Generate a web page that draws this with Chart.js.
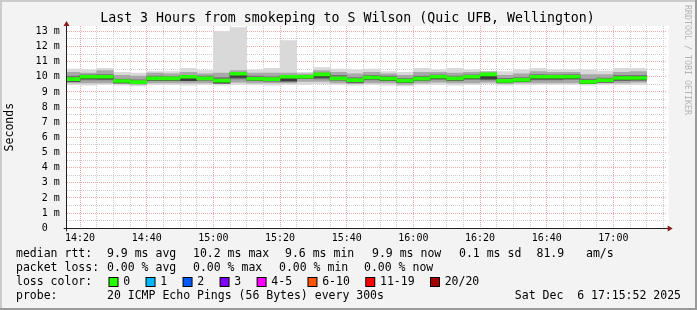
<!DOCTYPE html>
<html>
<head>
<meta charset="utf-8">
<script src="https://cdn.jsdelivr.net/npm/chart.js@4.4.1/dist/chart.umd.min.js"></script>
<style>
  html, body { margin: 0; padding: 0; background: #f3f3f3; }
  canvas { display: block; }
</style>
</head>
<body>
<canvas id="smokeGraph" width="697" height="310"></canvas>
<script>
// 5 minute bins (start time of each bin)
const bin_start = ['14:15','14:20','14:25','14:30','14:35','14:40','14:45','14:50','14:55',
  '15:00','15:05','15:10','15:15','15:20','15:25','15:30','15:35','15:40','15:45','15:50','15:55',
  '16:00','16:05','16:10','16:15','16:20','16:25','16:30','16:35','16:40','16:45','16:50','16:55',
  '17:00','17:05']
const tick_labels = ['14:20','14:40','15:00','15:20','15:40','16:00','16:20','16:40','17:00']

// rtt in ms
const rtt_median = [9.85, 10.0, 10.0, 9.72, 9.65, 9.9, 9.9, 10.0, 9.9, 9.74, 10.2, 9.87, 9.85, 10.0,
  10.0, 10.16, 9.9, 9.78, 9.95, 9.88, 9.75, 9.88, 10.0, 9.9, 10.0, 10.16, 9.73, 9.8, 10.0, 10.0,
  10.0, 9.66, 9.77, 9.92, 9.92]
const rtt_min = [9.5, 9.45, 9.5, 9.45, 9.4, 9.5, 9.5, 9.45, 9.5, 9.45, 9.5, 9.5, 9.45, 9.5, 9.5,
  9.55, 9.5, 9.45, 9.5, 9.45, 9.4, 9.5, 9.5, 9.45, 9.5, 9.55, 9.45, 9.5, 9.5, 9.5, 9.5, 9.45, 9.5,
  9.5, 9.5]
const rtt_max = [10.5, 10.45, 10.55, 10.3, 10.25, 10.35, 10.35, 10.55, 10.4, 12.98, 13.24, 10.45,
  10.55, 12.38, 10.3, 10.6, 10.5, 10.45, 10.5, 10.35, 10.3, 10.55, 10.45, 10.55, 10.45, 10.3, 10.35,
  10.45, 10.55, 10.45, 10.45, 10.45, 10.38, 10.55, 10.55]
const rtt_p10 = [9.6, 9.6, 9.6, 9.55, 9.5, 9.6, 9.6, 9.6, 9.6, 9.55, 9.65, 9.6, 9.6, 9.6, 9.7, 9.7,
  9.6, 9.55, 9.6, 9.6, 9.5, 9.6, 9.65, 9.6, 9.6, 9.65, 9.55, 9.6, 9.6, 9.6, 9.6, 9.55, 9.6, 9.6, 9.65]
const rtt_p90 = [10.3, 10.25, 10.4, 10.1, 10.05, 10.25, 10.2, 10.3, 10.2, 10.25, 10.4, 10.25, 10.25,
  10.25, 10.2, 10.4, 10.3, 10.2, 10.3, 10.2, 10.1, 10.3, 10.3, 10.25, 10.3, 10.35, 10.1, 10.2, 10.35,
  10.3, 10.3, 10.15, 10.15, 10.3, 10.35]
const rtt_p25 = [9.72, 9.8, 9.8, 9.62, 9.58, 9.75, 9.75, 9.75, 9.78, 9.62, 9.85, 9.75, 9.72, 9.7,
  9.88, 9.85, 9.78, 9.65, 9.8, 9.78, 9.62, 9.75, 9.82, 9.75, 9.82, 9.8, 9.65, 9.7, 9.8, 9.8, 9.82,
  9.6, 9.68, 9.75, 9.78]
const rtt_p75 = [10.05, 10.12, 10.15, 9.85, 9.8, 10.05, 10.02, 10.1, 10.05, 9.95, 10.3, 10.05, 10.0,
  10.1, 10.08, 10.25, 10.1, 9.95, 10.1, 10.05, 9.9, 10.05, 10.12, 10.05, 10.12, 10.2, 9.9, 9.95,
  10.15, 10.12, 10.15, 9.85, 9.92, 10.1, 10.1]
const rtt_core_lo = [9.7, 9.88, 9.85, 9.6, 9.55, 9.78, 9.78, 9.75, 9.8, 9.58, 9.95, 9.78, 9.72, 9.72,
  9.9, 9.95, 9.8, 9.65, 9.85, 9.75, 9.62, 9.78, 9.88, 9.78, 9.88, 9.85, 9.62, 9.68, 9.85, 9.85, 9.88,
  9.55, 9.65, 9.8, 9.8]
const rtt_core_hi = [9.9, 10.08, 10.05, 9.78, 9.7, 9.95, 9.95, 10.0, 9.95, 9.8, 10.25, 9.92, 9.9,
  10.0, 10.05, 10.2, 9.95, 9.82, 10.0, 9.92, 9.8, 9.92, 10.05, 9.95, 10.05, 10.1, 9.8, 9.85, 10.05,
  10.05, 10.05, 9.72, 9.82, 9.98, 9.98]

const loss_labels = ['0', '1', '2', '3', '4-5', '6-10', '11-19', '20/20']
const loss_colors = ['#26ff00', '#00b8ff', '#0059ff', '#7e00ff', '#ff00ff', '#ff5500', '#ff0000', '#a10000']

const rtt_stats = ['9.9 ms avg', '10.2 ms max', '9.6 ms min', '9.9 ms now', '0.1 ms sd', '81.9', 'am/s']
const loss_stats = ['0.00 % avg', '0.00 % max', '0.00 % min', '0.00 % now']

const MONO = '"DejaVu Sans Mono", monospace'
const TITLE = 'Last 3 Hours from smokeping to S Wilson (Quic UFB, Wellington)'
const x_start = '14:16'
const x_end = '17:16'

function toMin(s) {
  const p = s.split(':')
  return (+p[0]) * 60 + (+p[1])
}
function fmtMin(v) {
  const h = Math.floor(v / 60)
  const m = Math.round(v - h * 60)
  return h + ':' + String(m).padStart(2, '0')
}
function band(lo, hi) {
  return bin_start.map((t, i) => ({x: toMin(t) + 2.5, y: [lo[i], hi[i]]}))
}

const smokeFrame = {
  id: 'smokeFrame',
  beforeDraw(chart) {
    const ctx = chart.ctx
    const a = chart.chartArea
    ctx.save()
    ctx.fillStyle = '#f3f3f3'
    ctx.fillRect(0, 0, 697, 310)
    ctx.fillStyle = '#ffffff'
    ctx.fillRect(a.left, a.top, a.right - a.left + 2, a.bottom - a.top)
    ctx.fillStyle = '#cbcbcb'
    ctx.fillRect(0, 0, 697, 2)
    ctx.fillRect(0, 0, 2, 310)
    ctx.fillStyle = '#9a9a9a'
    ctx.fillRect(0, 308, 697, 2)
    ctx.fillRect(695, 0, 2, 310)
    ctx.fillStyle = '#000'
    ctx.font = '13.25px ' + MONO
    ctx.textAlign = 'center'
    ctx.textBaseline = 'middle'
    ctx.fillText(TITLE, 347.5, 19)
    ctx.restore()
  },
  afterDatasetsDraw(chart) {
    const ctx = chart.ctx
    const a = chart.chartArea
    const yb = Math.round(a.bottom) + 0.5
    const xl = Math.round(a.left) - 0.5
    ctx.save()
    ctx.strokeStyle = '#202020'
    ctx.lineWidth = 1
    ctx.beginPath()
    ctx.moveTo(xl, a.bottom + 3)
    ctx.lineTo(xl, a.top - 1)
    ctx.moveTo(a.left - 3, yb)
    ctx.lineTo(a.right + 2, yb)
    ctx.stroke()
    ctx.fillStyle = '#8b1c1c'
    ctx.beginPath()
    ctx.moveTo(xl - 3, a.top)
    ctx.lineTo(xl + 3, a.top)
    ctx.lineTo(xl, a.top - 5)
    ctx.closePath()
    ctx.fill()
    ctx.beginPath()
    ctx.moveTo(a.right + 1, yb - 3)
    ctx.lineTo(a.right + 1, yb + 3)
    ctx.lineTo(a.right + 6, yb)
    ctx.closePath()
    ctx.fill()
    ctx.restore()
  },
  afterDraw(chart) {
    const ctx = chart.ctx
    ctx.save()
    ctx.fillStyle = '#000'
    ctx.font = '11.5px ' + MONO
    ctx.textBaseline = 'middle'
    ctx.textAlign = 'left'

    ctx.fillText('median rtt:', 16, 254)
    const rtt_x = [107, 193, 285, 372, 459, 536.5, 586]
    rtt_stats.forEach(function(s, i) { ctx.fillText(s, rtt_x[i], 254) })

    ctx.fillText('packet loss:', 16, 268)
    const loss_x = [107, 193, 279, 364]
    loss_stats.forEach(function(s, i) { ctx.fillText(s, loss_x[i], 268) })

    ctx.fillText('loss color:', 16, 282)
    let x = 108.5
    loss_labels.forEach(function(lbl, i) {
      ctx.fillStyle = '#000'
      ctx.fillRect(x, 277, 10, 10)
      ctx.fillStyle = loss_colors[i]
      ctx.fillRect(x + 1, 278, 8, 8)
      ctx.fillStyle = '#000'
      ctx.fillText(lbl, x + 14.7, 282)
      x += 14.7 + ctx.measureText(lbl).width + 15.4
    })

    ctx.fillText('probe:', 16, 296)
    ctx.fillText('20 ICMP Echo Pings (56 Bytes) every 300s', 107, 296)
    ctx.textAlign = 'right'
    ctx.fillText('Sat Dec  6 17:15:52 2025', 681, 296)

    ctx.translate(687, 5)
    ctx.rotate(Math.PI / 2)
    ctx.textAlign = 'left'
    ctx.fillStyle = '#b4b4b4'
    ctx.font = '8.3px ' + MONO
    ctx.fillText('RRDTOOL / TOBI OETIKER', 0, 0)
    ctx.restore()
  }
}

const smokeCanvas = document.getElementById('smokeGraph')
new Chart(
  smokeCanvas,
  {
    type: 'bar',
    data: {
      datasets: [
        {
          label: 'median',
          data: bin_start.map((t, i) => ({x: toMin(t) + 2.5, y: [rtt_median[i] - 0.1, rtt_median[i] + 0.1]})),
          backgroundColor: loss_colors[0],
        },
        {
          label: 'core',
          data: band(rtt_core_lo, rtt_core_hi),
          backgroundColor: '#3c3c3c',
        },
        {
          label: 'p25-p75',
          data: band(rtt_p25, rtt_p75),
          backgroundColor: '#737373',
        },
        {
          label: 'p10-p90',
          data: band(rtt_p10, rtt_p90),
          backgroundColor: '#a8a8a8',
        },
        {
          label: 'min-max',
          data: band(rtt_min, rtt_max),
          backgroundColor: '#d9d9d9',
        },
      ]
    },
    options: {
      responsive: false,
      animation: false,
      devicePixelRatio: 1,
      datasets: {
        bar: {
          grouped: false,
          barPercentage: 1,
          categoryPercentage: 1,
          borderWidth: 0,
          clip: 0,
        }
      },
      layout: {
        padding: {left: 0, right: 30.3, top: 26, bottom: 63.7}
      },
      plugins: {
        legend: false,
        tooltip: {enabled: false},
        title: false,
      },
      scales: {
        x: {
          type: 'linear',
          offset: false,
          min: toMin(x_start),
          max: toMin(x_end),
          afterBuildTicks: function(scale) {
            // a grid line every 5 minutes, labelled ones from tick_labels
            const ticks = []
            for (let v = toMin(tick_labels[0]); v <= scale.max; v += 5) {
              ticks.push({value: v})
            }
            scale.ticks = ticks
          },
          afterFit: function(scale) { scale.height = 18 },
          border: {display: false, dash: [1, 1]},
          grid: {
            offset: false,
            drawTicks: false,
            color: function(c) {
              if (!c.tick) return '#cccccc'
              return tick_labels.includes(fmtMin(c.tick.value)) ? '#f2a8a8' : '#cccccc'
            },
          },
          ticks: {
            autoSkip: false,
            maxRotation: 0,
            padding: 4,
            color: '#000',
            font: {family: MONO, size: 10},
            callback: function(v) {
              const s = fmtMin(v)
              return tick_labels.includes(s) ? s : ''
            },
          },
        },
        y: {
          min: 0,
          max: 13.35,
          afterFit: function(scale) { scale.width = 66.7 },
          border: {display: false, dash: [1, 1]},
          grid: {
            drawTicks: false,
            color: function(c) {
              if (!c.tick || c.tick.value === 0) return 'rgba(0,0,0,0)'
              return Number.isInteger(c.tick.value) ? '#f2a8a8' : '#cccccc'
            },
          },
          title: {
            display: true,
            text: 'Seconds',
            color: '#000',
            font: {family: MONO, size: 11.5},
            padding: {top: 3, bottom: 0},
          },
          ticks: {
            stepSize: 0.5,
            includeBounds: false,
            autoSkip: false,
            maxTicksLimit: 100,
            padding: 7,
            color: '#000',
            font: {family: MONO, size: 10},
            callback: function(v) {
              if (!Number.isInteger(v)) return ''
              return v === 0 ? '0  ' : v + ' m'
            },
          },
        },
      },
    },
    plugins: [smokeFrame],
  }
);
</script>
</body>
</html>
